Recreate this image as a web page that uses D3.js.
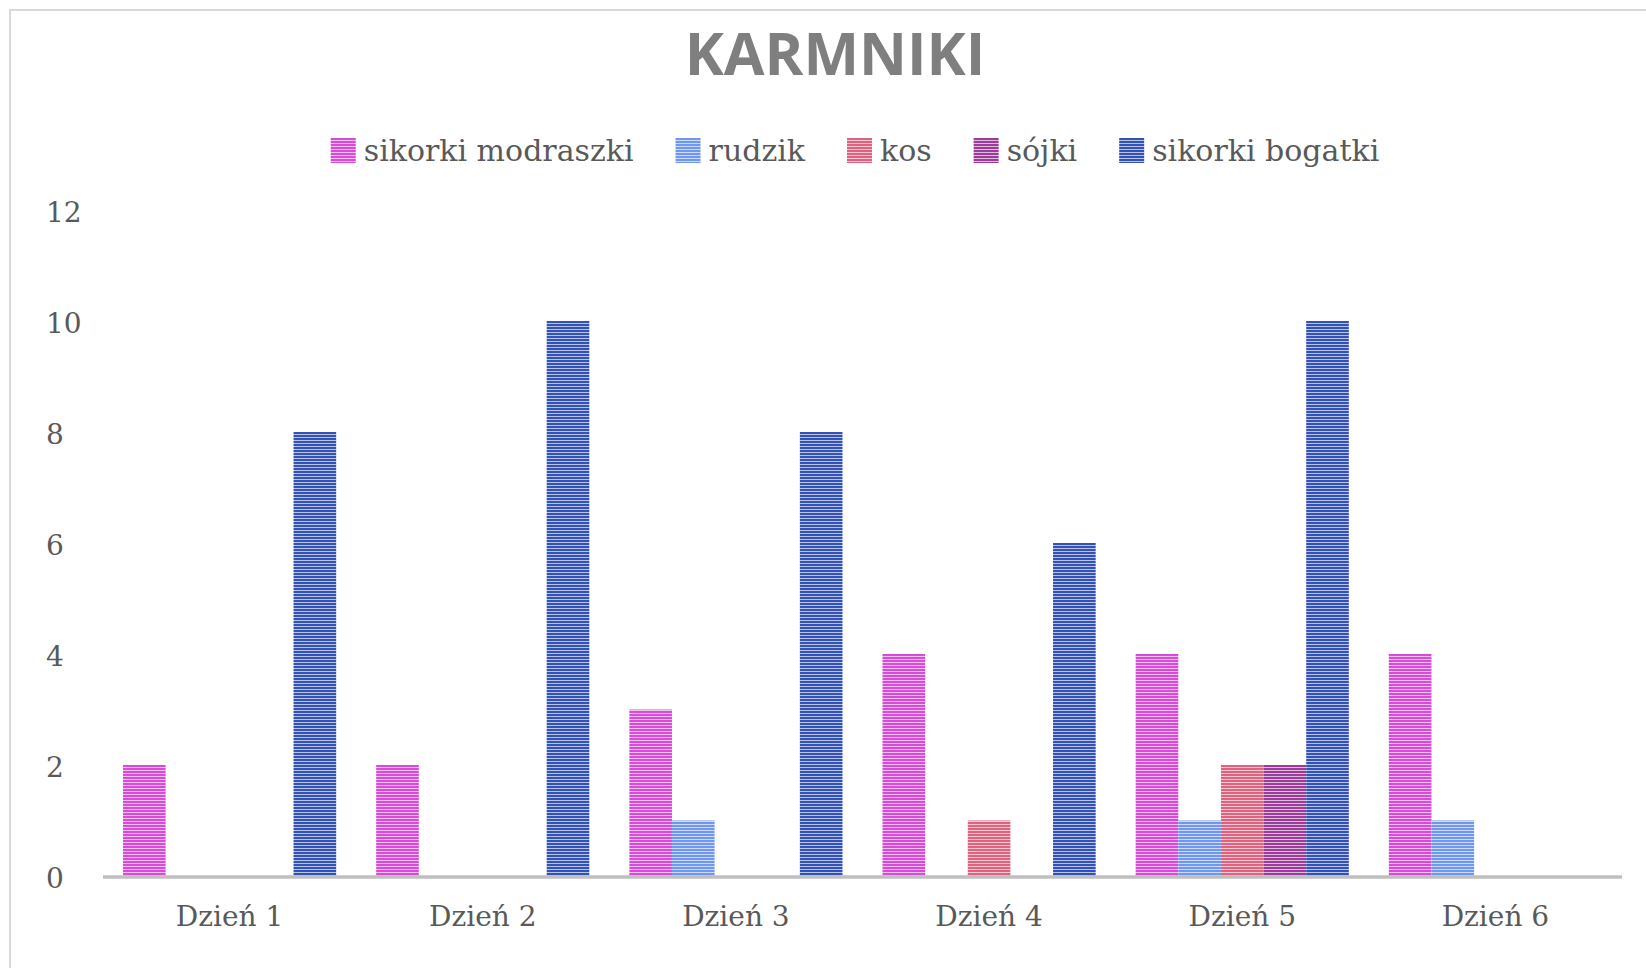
<!DOCTYPE html>
<html>
<head>
<meta charset="utf-8">
<script src="https://cdn.jsdelivr.net/npm/d3@7"></script>
<style>
    body { margin: 0; background: #fff; }
    .title { font-family: "Open Sans", sans-serif; font-weight: 700; font-size: 59px; fill: #7f7f7f; }
    .legend-label, .tick-label { font-family: "DejaVu Serif", Georgia, serif; fill: #595959; }
    .legend-label { font-size: 30px; }
    .tick-label { font-size: 28px; }
</style>
</head>
<body>
<script>

/**********************
 ***      Data      ***
 **********************/

const TITLE_TEXT = 'KARMNIKI';
const days = ['Dzień 1', 'Dzień 2', 'Dzień 3', 'Dzień 4', 'Dzień 5', 'Dzień 6'];
const seriesNames = ['sikorki modraszki', 'rudzik', 'kos', 'sójki', 'sikorki bogatki'];
const modraszki = [2, 2, 3, 4, 4, 4];
const rudzik = [0, 0, 1, 0, 1, 1];
const kos = [0, 0, 0, 1, 2, 0];
const sojki = [0, 0, 0, 0, 2, 0];
const bogatki = [8, 10, 8, 6, 10, 0];
const yTicks = [0, 2, 4, 6, 8, 10, 12];

const seriesValues = [modraszki, rudzik, kos, sojki, bogatki];
const seriesColors = ['#d84ad8', '#6f97f2', '#e0627f', '#9a3c98', '#3352b8'];

/**********************
 ***    Constants   ***
 **********************/

const SCREEN = {
    width: 1646,
    height: 968,
    plotLeft: 103,
    plotRight: 1622,
    plotTop: 210,
    plotBottom: 876
};

const svg = d3.select('body').append('svg')
    .attr('width', SCREEN.width)
    .attr('height', SCREEN.height);

// striped fills, one per series
const defs = svg.append('defs');
seriesColors.forEach((c, i) => {
    const p = defs.append('pattern')
        .attr('id', 'stripe' + i)
        .attr('patternUnits', 'userSpaceOnUse')
        .attr('width', 6)
        .attr('height', 3);
    p.append('rect').attr('width', 6).attr('height', 3).attr('fill', c);
    p.append('rect').attr('y', 2).attr('width', 6).attr('height', 1)
        .attr('fill', '#fff').attr('opacity', 0.65);
});

// chart frame
svg.append('path')
    .attr('d', `M10,${SCREEN.height} V10 H${SCREEN.width}`)
    .attr('fill', 'none')
    .attr('stroke', '#d9d9d9')
    .attr('stroke-width', 2);

/******************
 *     Scales     *
 ******************/

const x0 = d3.scaleBand()
    .domain(days)
    .range([SCREEN.plotLeft, SCREEN.plotRight])
    .paddingInner(0.158)
    .paddingOuter(0.079);

const x1 = d3.scaleBand()
    .domain(seriesNames)
    .range([0, x0.bandwidth()]);

const y = d3.scaleLinear()
    .domain([0, 12])
    .range([SCREEN.plotBottom, SCREEN.plotTop]);

/******************
 *      Bars      *
 ******************/

const groups = svg.append('g').attr('class', 'bars')
    .selectAll('g')
    .data(days)
    .enter().append('g')
    .attr('transform', d => `translate(${x0(d)},0)`);

groups.selectAll('rect')
    .data((d, di) => seriesNames.map((s, si) => ({ s, si, v: seriesValues[si][di] })))
    .enter().append('rect')
    .filter(d => d.v > 0)
    .attr('x', d => x1(d.s))
    .attr('y', d => y(d.v))
    .attr('width', x1.bandwidth())
    .attr('height', d => y(0) - y(d.v))
    .attr('fill', d => `url(#stripe${d.si})`);

/******************
 *      Axes      *
 ******************/

svg.append('line')
    .attr('x1', SCREEN.plotLeft)
    .attr('x2', SCREEN.plotRight)
    .attr('y1', y(0) + 1)
    .attr('y2', y(0) + 1)
    .attr('stroke', '#bfbfbf')
    .attr('stroke-width', 3.5);

svg.append('g').selectAll('text')
    .data(yTicks)
    .enter().append('text')
    .attr('class', 'tick-label')
    .attr('x', 46)
    .attr('y', d => y(d) + 12)
    .text(d => d);

svg.append('g').selectAll('text')
    .data(days)
    .enter().append('text')
    .attr('class', 'tick-label')
    .attr('x', d => x0(d) + x0.bandwidth() / 2)
    .attr('y', 926)
    .attr('text-anchor', 'middle')
    .text(d => d);

/******************
 * Title / legend *
 ******************/

svg.append('text')
    .attr('class', 'title')
    .attr('x', 835)
    .attr('y', 75)
    .attr('text-anchor', 'middle')
    .text(TITLE_TEXT);

const legend = svg.append('g').attr('class', 'legend');
const markerSize = 25, markerGap = 8, itemGap = 42;
let cursor = 0;
seriesNames.forEach((name, i) => {
    const item = legend.append('g').attr('transform', `translate(${cursor},0)`);
    item.append('rect')
        .attr('y', -12)
        .attr('width', markerSize)
        .attr('height', markerSize)
        .attr('fill', `url(#stripe${i})`);
    const t = item.append('text')
        .attr('class', 'legend-label')
        .attr('x', markerSize + markerGap)
        .attr('y', 11)
        .text(name);
    cursor += markerSize + markerGap + t.node().getComputedTextLength() + itemGap;
});
const legendWidth = cursor - itemGap;
legend.attr('transform', `translate(${855 - legendWidth / 2},150)`);

</script>
</body>
</html>
